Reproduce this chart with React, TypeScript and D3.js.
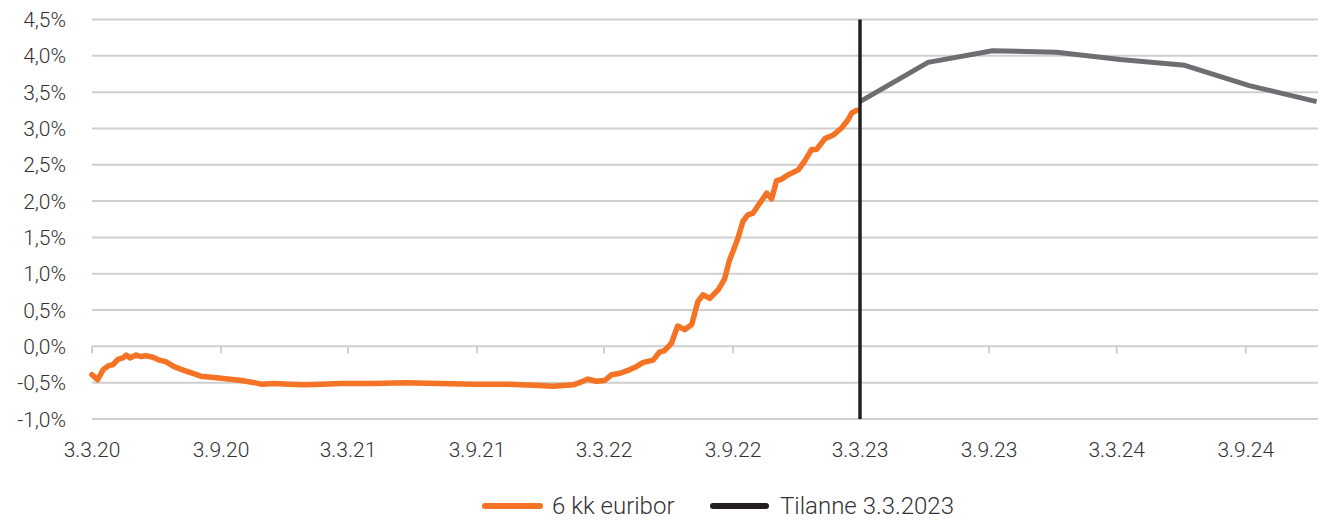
// 6 kk euribor ja markkinaodotus – viivakaavio
import React from 'react';
import * as d3 from 'd3';

const parse = d3.timeParse('%Y-%m-%d');

// Toteutunut 6 kk euribor (%), luettu kuvasta
const euriborDates = [
  '2020-03-03', '2020-03-11', '2020-03-19', '2020-03-26', '2020-04-02', '2020-04-09',
  '2020-04-16', '2020-04-21', '2020-04-26', '2020-05-05', '2020-05-12', '2020-05-19',
  '2020-05-29', '2020-06-07', '2020-06-16', '2020-06-28', '2020-07-12', '2020-07-27',
  '2020-08-05', '2020-08-24', '2020-09-13', '2020-10-02', '2020-10-21', '2020-10-30',
  '2020-11-18', '2020-12-08', '2020-12-31', '2021-01-24', '2021-02-21', '2021-04-08',
  '2021-05-25', '2021-07-12', '2021-08-29', '2021-10-15', '2021-12-01', '2021-12-20',
  '2022-01-18', '2022-01-27', '2022-02-08', '2022-02-20', '2022-03-04', '2022-03-14',
  '2022-03-26', '2022-04-09', '2022-04-18', '2022-04-28', '2022-05-12', '2022-05-21',
  '2022-05-28', '2022-06-07', '2022-06-16', '2022-06-26', '2022-07-06', '2022-07-15',
  '2022-07-22', '2022-08-01', '2022-08-13', '2022-08-22', '2022-08-29', '2022-09-03',
  '2022-09-10', '2022-09-17', '2022-09-24', '2022-10-01', '2022-10-11', '2022-10-21',
  '2022-10-28', '2022-11-04', '2022-11-11', '2022-11-20', '2022-12-05', '2022-12-14',
  '2022-12-24', '2022-12-31', '2023-01-12', '2023-01-24', '2023-02-05', '2023-02-14',
  '2023-02-19', '2023-02-26'
];
const euriborValues = [
  -0.39, -0.46, -0.32, -0.27, -0.25, -0.18,
  -0.16, -0.12, -0.16, -0.12, -0.14, -0.13,
  -0.15, -0.19, -0.21, -0.28, -0.33, -0.38,
  -0.41, -0.43, -0.45, -0.47, -0.50, -0.52,
  -0.51, -0.52, -0.53, -0.52, -0.51, -0.51,
  -0.50, -0.51, -0.52, -0.52, -0.54, -0.55,
  -0.53, -0.50, -0.45, -0.48, -0.47, -0.39,
  -0.37, -0.32, -0.28, -0.22, -0.19, -0.08,
  -0.06, 0.04, 0.28, 0.23, 0.30, 0.62,
  0.71, 0.66, 0.78, 0.93, 1.19, 1.31,
  1.49, 1.72, 1.81, 1.83, 1.97, 2.11,
  2.03, 2.28, 2.30, 2.36, 2.43, 2.55,
  2.71, 2.71, 2.86, 2.91, 3.01, 3.12,
  3.21, 3.25
];

// Markkinaodotus (harmaa viiva)
const forecastDates = [
  '2023-03-03', '2023-06-08', '2023-09-08', '2023-12-08',
  '2024-03-08', '2024-06-08', '2024-09-08', '2024-12-13'
];
const forecastValues = [3.37, 3.91, 4.07, 4.05, 3.95, 3.87, 3.59, 3.37];

const situationDate = '2023-03-03';
const situationRange = [-1.0, 4.5];

const xTickDates = [
  '2020-03-03', '2020-09-03', '2021-03-03', '2021-09-03', '2022-03-03',
  '2022-09-03', '2023-03-03', '2023-09-03', '2024-03-03', '2024-09-03'
];
const xTickLabels = [
  '3.3.20', '3.9.20', '3.3.21', '3.9.21', '3.3.22',
  '3.9.22', '3.3.23', '3.9.23', '3.3.24', '3.9.24'
];
const yTicks = [-1.0, -0.5, 0, 0.5, 1.0, 1.5, 2.0, 2.5, 3.0, 3.5, 4.0, 4.5];

const legendLabels = ['6 kk euribor', 'Tilanne 3.3.2023'];

const WIDTH = 1323;
const HEIGHT = 520;
const ORANGE = '#f47324';
const GREY = '#6d6e71';
const BLACK = '#231f20';
const GRID = '#cfcfcf';
const TEXT = '#333333';
const FONT = 'Roboto, "Noto Sans", sans-serif';

export default function App() {
  const x = d3.scaleTime()
    .domain([parse('2020-03-03')!, parse('2024-12-15')!])
    .range([92, 1318]);
  const y = d3.scaleLinear().domain([-1.0, 4.5]).range([419, 19.5]);

  const line = d3.line<[Date, number]>()
    .x(d => x(d[0]))
    .y(d => y(d[1]))
    .curve(d3.curveLinear);

  const euribor = euriborDates.map((d, i) => [parse(d)!, euriborValues[i]] as [Date, number]);
  const forecast = forecastDates.map((d, i) => [parse(d)!, forecastValues[i]] as [Date, number]);
  const situation = situationRange.map(v => [parse(situationDate)!, v] as [Date, number]);

  const fmt = (v: number) => d3.format('.1f')(v).replace('.', ',').replace('−', '-') + '%';

  return (
    <svg width={WIDTH} height={HEIGHT} style={{ display: 'block', position: 'absolute', left: 0, top: 0 }}>
      <rect width={WIDTH} height={HEIGHT} fill="#fff" />
      {/* gridlines */}
      {yTicks.map(t => (
        <line key={t} x1={92} x2={1318} y1={y(t)} y2={y(t)} stroke={GRID} strokeWidth={2} />
      ))}
      {/* x ticks along the zero line */}
      {xTickDates.map(d => (
        <line key={d} x1={x(parse(d)!)} x2={x(parse(d)!)} y1={y(0)} y2={y(0) + 7} stroke={GRID} strokeWidth={2} />
      ))}
      {/* y labels */}
      {yTicks.map(t => (
        <text key={t} x={66} y={y(t)} dy="0.36em" textAnchor="end" fontFamily={FONT} fontWeight={300} fontSize={21} fill={TEXT}>
          {fmt(t)}
        </text>
      ))}
      {/* x labels */}
      {xTickDates.map((d, i) => (
        <text key={d} x={x(parse(d)!)} y={457} textAnchor="middle" fontFamily={FONT} fontWeight={300} fontSize={21} fill={TEXT}>
          {xTickLabels[i]}
        </text>
      ))}
      <path d={line(forecast)!} fill="none" stroke={GREY} strokeWidth={5} strokeLinejoin="round" />
      <path d={line(euribor)!} fill="none" stroke={ORANGE} strokeWidth={5.5} strokeLinejoin="round" strokeLinecap="round" />
      <path d={line(situation)!} fill="none" stroke={BLACK} strokeWidth={3.5} />
      {/* legend */}
      <g fontFamily={FONT} fontWeight={300} fontSize={24} fill={TEXT}>
        <line x1={485} x2={540} y1={506} y2={506} stroke={ORANGE} strokeWidth={6} strokeLinecap="round" />
        <text x={552} y={514}>{legendLabels[0]}</text>
        <line x1={713} x2={766} y1={506} y2={506} stroke={BLACK} strokeWidth={6} strokeLinecap="round" />
        <text x={780} y={514}>{legendLabels[1]}</text>
      </g>
    </svg>
  );
}
